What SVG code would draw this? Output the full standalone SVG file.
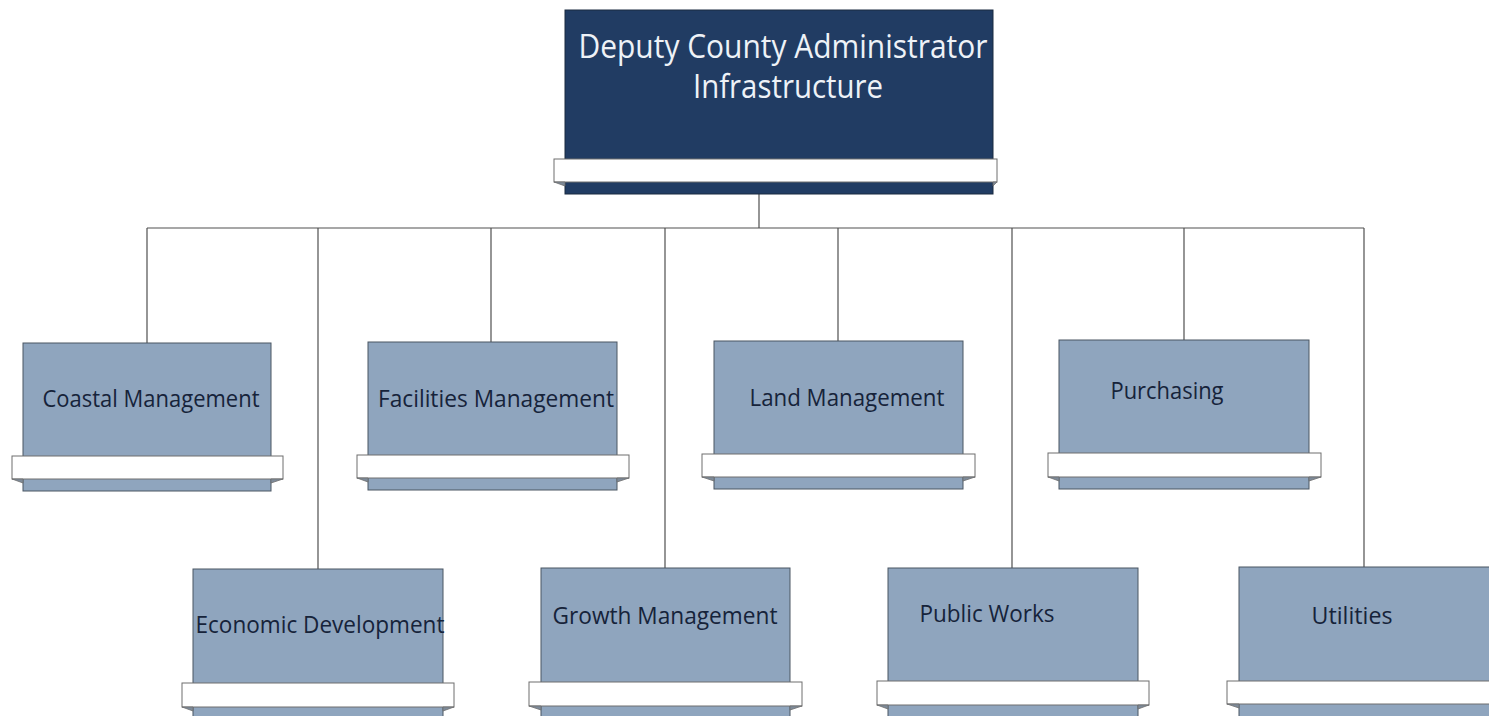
<svg xmlns="http://www.w3.org/2000/svg" width="1489" height="716" viewBox="0 0 1489 716">
<style>
.box{fill:#8fa5be;stroke:#4a5663;stroke-width:1}
.top{fill:#213c63;stroke:#1a2a40;stroke-width:1}
.bar{fill:#ffffff;stroke:#6e6e6e;stroke-width:1}
.fold{fill:#7d8a99;stroke:#6e6e6e;stroke-width:0.8}
.lbl{font-family:"Open Sans","Noto Sans",sans-serif;font-size:23px;fill:#16233a;text-anchor:middle}
.ttl{font-family:"Open Sans","Noto Sans",sans-serif;font-size:32px;fill:#eef2f7;text-anchor:middle}
.cn{stroke:#505050;stroke-width:1.2;fill:none}
</style>
<rect width="1489" height="716" fill="#ffffff"/>
<g id="connectors">
<path class="cn" d="M759 194V228M147 228H1364M147 228V343M318 228V569M491 228V342M665 228V568M838 228V341M1012 228V568M1184 228V340M1364 228V567"/>
</g>
<g id="top">
<rect class="top" x="565" y="10" width="428" height="184"/>
<rect class="bar" x="554" y="159" width="443" height="23"/>
<polygon class="fold" points="554,182 565,182 565,186"/>
<polygon class="fold" points="997,182 993,182 993,186"/>
<text class="ttl" x="783" y="58" textLength="409" lengthAdjust="spacingAndGlyphs">Deputy County Administrator</text>
<text class="ttl" x="788" y="98" textLength="190" lengthAdjust="spacingAndGlyphs">Infrastructure</text>
</g>
<g id="coastal">
<rect class="box" x="23" y="343" width="248" height="148"/>
<rect class="bar" x="12" y="456" width="271" height="23"/>
<polygon class="fold" points="12,479 23,479 23,483"/>
<polygon class="fold" points="283,479 271,479 271,483"/>
<text class="lbl" x="151" y="407" textLength="217" lengthAdjust="spacingAndGlyphs">Coastal Management</text>
</g>
<g id="facilities">
<rect class="box" x="368" y="342" width="249" height="148"/>
<rect class="bar" x="357" y="455" width="272" height="23"/>
<polygon class="fold" points="357,478 368,478 368,482"/>
<polygon class="fold" points="629,478 617,478 617,482"/>
<text class="lbl" x="496" y="407" textLength="236" lengthAdjust="spacingAndGlyphs">Facilities Management</text>
</g>
<g id="land">
<rect class="box" x="714" y="341" width="249" height="148"/>
<rect class="bar" x="702" y="454" width="273" height="23"/>
<polygon class="fold" points="702,477 714,477 714,481"/>
<polygon class="fold" points="975,477 963,477 963,481"/>
<text class="lbl" x="847" y="406" textLength="195" lengthAdjust="spacingAndGlyphs">Land Management</text>
</g>
<g id="purchasing">
<rect class="box" x="1059" y="340" width="250" height="149"/>
<rect class="bar" x="1048" y="453" width="273" height="24"/>
<polygon class="fold" points="1048,477 1059,477 1059,481"/>
<polygon class="fold" points="1321,477 1309,477 1309,481"/>
<text class="lbl" x="1167" y="399" textLength="113" lengthAdjust="spacingAndGlyphs">Purchasing</text>
</g>
<g id="economic">
<rect class="box" x="193" y="569" width="250" height="160"/>
<rect class="bar" x="182" y="683" width="272" height="24"/>
<polygon class="fold" points="182,707 193,707 193,711"/>
<polygon class="fold" points="454,707 443,707 443,711"/>
<text class="lbl" x="320" y="633" textLength="249" lengthAdjust="spacingAndGlyphs">Economic Development</text>
</g>
<g id="growth">
<rect class="box" x="541" y="568" width="249" height="160"/>
<rect class="bar" x="529" y="682" width="273" height="24"/>
<polygon class="fold" points="529,706 541,706 541,710"/>
<polygon class="fold" points="802,706 790,706 790,710"/>
<text class="lbl" x="665" y="624" textLength="225" lengthAdjust="spacingAndGlyphs">Growth Management</text>
</g>
<g id="publicworks">
<rect class="box" x="888" y="568" width="250" height="160"/>
<rect class="bar" x="877" y="681" width="272" height="24"/>
<polygon class="fold" points="877,705 888,705 888,709"/>
<polygon class="fold" points="1149,705 1138,705 1138,709"/>
<text class="lbl" x="987" y="622" textLength="135" lengthAdjust="spacingAndGlyphs">Public Works</text>
</g>
<g id="utilities">
<rect class="box" x="1239" y="567" width="260" height="160"/>
<rect class="bar" x="1227" y="681" width="272" height="23"/>
<polygon class="fold" points="1227,704 1239,704 1239,708"/>
<text class="lbl" x="1352" y="624" textLength="81" lengthAdjust="spacingAndGlyphs">Utilities</text>
</g>
</svg>
